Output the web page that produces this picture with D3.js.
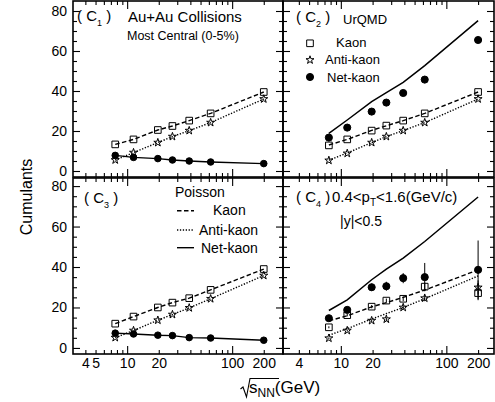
<!DOCTYPE html>
<html><head><meta charset="utf-8">
<script src="https://cdn.jsdelivr.net/npm/d3@7"></script>
<style>
body{margin:0;background:#fff}
svg{display:block}
text{font-family:"Liberation Sans",Arial,Helvetica,sans-serif;fill:#000}
</style>
</head><body>
<svg id="c" width="495" height="402"></svg>
<script>
// ---------- data ----------
const energies = [7.7, 11.5, 19.6, 27, 39, 62.4, 200];

// C1 (mean)
const c1Kaon     = [13.3, 15.8, 20.5, 22.5, 25.2, 28.8, 39.5];
const c1AntiKaon = [5.5, 9.2, 14.2, 17.2, 20.2, 24.2, 36.0];
const c1NetKaon  = [7.8, 6.8, 6.2, 5.5, 5.0, 4.5, 3.7];

// C2 (variance)
const c2Kaon     = [12.8, 15.8, 20.2, 22.7, 25.2, 28.8, 39.5];
const c2AntiKaon = [5.3, 8.8, 14.2, 17.2, 20.2, 24.2, 36.0];
const c2NetKaon  = [16.7, 21.7, 29.7, 34.2, 39.0, 45.7, 65.5];
const c2PoissonKaon = [13.0, 15.8, 20.3, 22.6, 25.2, 28.8, 39.5];
const c2PoissonAnti = [5.4, 9.0, 14.2, 17.2, 20.2, 24.2, 36.0];
const c2PoissonNet  = [18.8, 25.5, 34.7, 39.2, 44.3, 52.7, 75.2];

// C3 (third cumulant)
const c3Kaon     = [12.0, 15.5, 20.0, 22.4, 24.6, 28.7, 39.0];
const c3AntiKaon = [5.1, 8.6, 13.7, 16.5, 19.8, 24.3, 35.8];
const c3NetKaon  = [7.3, 6.9, 6.3, 6.1, 5.1, 4.9, 3.8];

// C4 (fourth cumulant) with statistical errors
const c4Kaon        = [10.2, 16.2, 20.4, 23.4, 24.3, 30.3, 27.1];
const c4KaonErr     = [0.5, 0.6, 0.8, 1.0, 1.2, 2.0, 3.5];
const c4AntiKaon    = [4.8, 8.6, 13.5, 14.2, 20.0, 24.6, 29.9];
const c4AntiKaonErr = [0.4, 0.5, 0.7, 0.9, 1.0, 1.5, 3.5];
const c4NetKaon     = [14.7, 18.8, 30.0, 30.5, 34.5, 35.0, 38.6];
const c4NetKaonErr  = [1.0, 1.3, 1.8, 2.2, 2.5, 7.0, 14.5];
const c4PoissonKaon = [13.4, 15.9, 20.3, 22.4, 25.0, 28.6, 38.6];
const c4PoissonAnti = [6.3, 9.5, 14.3, 17.0, 20.0, 24.3, 35.6];
const c4PoissonNet  = [18.5, 23.8, 33.7, 39.0, 44.4, 52.6, 74.6];

// ticks
const xMajor = [10, 100];
const xMinor = [4, 5, 6, 7, 8, 9, 20, 30, 40, 50, 60, 70, 80, 90, 200, 300];
const xLabelsLeft  = [4, 5, 10, 20, 100, 200];
const xLabelsRight = [4, 10, 20, 100, 200];
const yMajor = [0, 20, 40, 60, 80];
const yMinor = [5, 10, 15, 25, 30, 35, 45, 50, 55, 65, 70, 75];

// ---------- layout ----------
const svg = d3.select('#c');
const cols = [{x0: 73, x1: 283, dom: [3.05, 305]}, {x0: 283, x1: 494, dom: [2.83, 283]}];
const rows = [{y0: 1, y1: 177, dom: [-3, 85]}, {y0: 178, y1: 354, dom: [-3, 84]}];

function mkScales(ci, ri) {
  const c = cols[ci], r = rows[ri];
  return {
    x: d3.scaleLog().domain(c.dom).range([c.x0, c.x1]),
    y: d3.scaleLinear().domain(r.dom).range([r.y1, r.y0]),
    c, r
  };
}

function ticks(g, axis, tr) {
  const a = g.append('g').attr('transform', tr).call(axis);
  a.select('.domain').remove();
  a.selectAll('line').attr('stroke', '#000').attr('stroke-width', 1.1);
  a.selectAll('text').remove();
}

function frame(ci, ri) {
  const s = mkScales(ci, ri);
  const g = svg.append('g');
  const inX = v => v > s.c.dom[0] && v < s.c.dom[1];
  const inY = v => v > s.r.dom[0] && v < s.r.dom[1];
  const xm = xMajor.filter(inX), xn = xMinor.filter(inX);
  const ym = yMajor.filter(inY), yn = yMinor.filter(inY);
  ticks(g, d3.axisBottom(s.x).tickValues(xm).tickSize(-8).tickFormat(''), `translate(0,${s.r.y1})`);
  ticks(g, d3.axisBottom(s.x).tickValues(xn).tickSize(-4).tickFormat(''), `translate(0,${s.r.y1})`);
  ticks(g, d3.axisTop(s.x).tickValues(xm).tickSize(-8).tickFormat(''), `translate(0,${s.r.y0})`);
  ticks(g, d3.axisTop(s.x).tickValues(xn).tickSize(-4).tickFormat(''), `translate(0,${s.r.y0})`);
  ticks(g, d3.axisLeft(s.y).tickValues(ym).tickSize(-7).tickFormat(''), `translate(${s.c.x0},0)`);
  ticks(g, d3.axisLeft(s.y).tickValues(yn).tickSize(-4).tickFormat(''), `translate(${s.c.x0},0)`);
  ticks(g, d3.axisRight(s.y).tickValues(ym).tickSize(-7).tickFormat(''), `translate(${s.c.x1},0)`);
  ticks(g, d3.axisRight(s.y).tickValues(yn).tickSize(-4).tickFormat(''), `translate(${s.c.x1},0)`);
  g.append('rect').attr('x', s.c.x0).attr('y', s.r.y0)
    .attr('width', s.c.x1 - s.c.x0).attr('height', s.r.y1 - s.r.y0)
    .attr('fill', 'none').attr('stroke', '#000').attr('stroke-width', 1.6);
  // labels
  if (ci === 0) {
    const la = g.append('g').attr('transform', `translate(${s.c.x0},0)`)
      .call(d3.axisLeft(s.y).tickValues(yMajor).tickSize(0).tickPadding(6).tickFormat(d3.format('d')));
    la.select('.domain').remove();
    la.selectAll('text').attr('font-size', 14).style('font-family', '"Liberation Sans",Arial,sans-serif');
  }
  if (ri === 1) {
    const lab = ci === 0 ? xLabelsLeft : xLabelsRight;
    const la = g.append('g').attr('transform', `translate(0,${s.r.y1})`)
      .call(d3.axisBottom(s.x).tickValues(lab).tickSize(0).tickPadding(4).tickFormat(d3.format('d')));
    la.select('.domain').remove();
    la.selectAll('text').attr('font-size', 14).style('font-family', '"Liberation Sans",Arial,sans-serif');
  }
  return s;
}

const dashK = '4.5,2.5', dotA = '1.3,1.6';

function line(s, vals, dash, w) {
  const gen = d3.line().x((d, i) => s.x(energies[i])).y(d => s.y(d));
  svg.append('path').attr('d', gen(vals)).attr('fill', 'none')
    .attr('stroke', '#000').attr('stroke-width', w || 1.4)
    .attr('stroke-dasharray', dash || null);
}
const symSq = d3.symbol(d3.symbolSquare, 44)();
const symStar = d3.symbol(d3.symbolStar, 20)();
function markers(s, vals, type, size) {
  let path;
  if (type === 'sq') path = symSq;
  else if (type === 'star') path = symStar;
  else path = d3.symbol(d3.symbolCircle, size || 36)();
  svg.append('g').selectAll('path').data(vals).join('path')
    .attr('d', path)
    .attr('transform', (d, i) => `translate(${s.x(energies[i])},${s.y(d)})`)
    .attr('fill', type === 'circ' ? '#000' : 'none')
    .attr('stroke', '#000').attr('stroke-width', 1);
}
function errs(s, vals, e) {
  svg.append('g').selectAll('line').data(vals).join('line')
    .attr('x1', (d, i) => s.x(energies[i])).attr('x2', (d, i) => s.x(energies[i]))
    .attr('y1', (d, i) => s.y(d - e[i])).attr('y2', (d, i) => s.y(d + e[i]))
    .attr('stroke', '#000').attr('stroke-width', 1);
}

// ---------- panels ----------
const s1 = frame(0, 0);
line(s1, c1Kaon, dashK); line(s1, c1AntiKaon, dotA); line(s1, c1NetKaon, null);
markers(s1, c1Kaon, 'sq'); markers(s1, c1AntiKaon, 'star'); markers(s1, c1NetKaon, 'circ', 34);

const s2 = frame(1, 0);
line(s2, c2PoissonKaon, dashK); line(s2, c2PoissonAnti, dotA); line(s2, c2PoissonNet, null, 1.5);
markers(s2, c2Kaon, 'sq'); markers(s2, c2AntiKaon, 'star'); markers(s2, c2NetKaon, 'circ', 40);

const s3 = frame(0, 1);
line(s3, c3Kaon, dashK); line(s3, c3AntiKaon, dotA); line(s3, c3NetKaon, null);
markers(s3, c3Kaon, 'sq'); markers(s3, c3AntiKaon, 'star'); markers(s3, c3NetKaon, 'circ', 34);

const s4 = frame(1, 1);
line(s4, c4PoissonKaon, dashK); line(s4, c4PoissonAnti, dotA); line(s4, c4PoissonNet, null, 1.5);
errs(s4, c4Kaon, c4KaonErr); errs(s4, c4AntiKaon, c4AntiKaonErr); errs(s4, c4NetKaon, c4NetKaonErr);
markers(s4, c4Kaon, 'sq'); markers(s4, c4AntiKaon, 'star'); markers(s4, c4NetKaon, 'circ', 40);

// ---------- texts ----------
function title(x, y, sub, fs) {
  const t = svg.append('text').attr('x', x).attr('y', y).attr('font-size', fs || 15);
  t.append('tspan').text('( C');
  t.append('tspan').attr('dy', 5).attr('font-size', 9).text(sub);
  t.append('tspan').attr('dy', -5).text(' )');
}
title(77, 21, '1');
svg.append('text').attr('x', 128).attr('y', 22).attr('font-size', 15).text('Au+Au Collisions');
svg.append('text').attr('x', 127).attr('y', 40).attr('font-size', 12.5).text('Most Central (0-5%)');

title(296, 22, '2');
svg.append('text').attr('x', 343).attr('y', 24).attr('font-size', 13).text('UrQMD');
// C2 legend
const legC2 = [{t: 'Kaon', m: 'sq', x: 336, y: 47, my: 43.3}, {t: 'Anti-kaon', m: 'star', x: 325, y: 64, my: 60}, {t: 'Net-kaon', m: 'circ', x: 327, y: 81.5, my: 77}];
legC2.forEach(d => {
  const p = d.m === 'sq' ? symSq : d.m === 'star' ? symStar : d3.symbol(d3.symbolCircle, 40)();
  svg.append('path').attr('d', p).attr('transform', `translate(310,${d.my})`)
    .attr('fill', d.m === 'circ' ? '#000' : 'none').attr('stroke', '#000').attr('stroke-width', 1);
  svg.append('text').attr('x', d.x).attr('y', d.y).attr('font-size', 13).text(d.t);
});

title(84, 203, '3');
svg.append('text').attr('x', 175).attr('y', 197).attr('font-size', 14).text('Poisson');
const legC3 = [{t: 'Kaon', d: dashK, x: 213, y: 215, ly: 210.7}, {t: 'Anti-kaon', d: dotA, x: 199, y: 235, ly: 230}, {t: 'Net-kaon', d: null, x: 201, y: 253, ly: 247.7}];
legC3.forEach(d => {
  svg.append('line').attr('x1', 177).attr('x2', 194).attr('y1', d.ly).attr('y2', d.ly)
    .attr('stroke', '#000').attr('stroke-width', 1.4).attr('stroke-dasharray', d.d);
  svg.append('text').attr('x', d.x).attr('y', d.y).attr('font-size', 14).text(d.t);
});

title(296, 202, '4');
const pt = svg.append('text').attr('x', 332).attr('y', 202).attr('font-size', 15);
pt.append('tspan').text('0.4<p');
pt.append('tspan').attr('dy', 4).attr('font-size', 10).text('T');
pt.append('tspan').attr('dy', -4).text('<1.6(GeV/c)');
svg.append('text').attr('x', 340).attr('y', 226).attr('font-size', 14).text('|y|<0.5');

// axis titles
svg.append('text').attr('transform', 'translate(32,197) rotate(-90)')
  .attr('text-anchor', 'middle').attr('font-size', 16).text('Cumulants');
svg.append('path').attr('d', 'M240.5,389 L243,387 L246.5,397 L250,378.5 L279,378.5')
  .attr('fill', 'none').attr('stroke', '#000').attr('stroke-width', 1.1);
const xt = svg.append('text').attr('x', 249).attr('y', 393).attr('font-size', 17);
xt.append('tspan').text('s');
xt.append('tspan').attr('dy', 4).attr('font-size', 12).text('NN');
xt.append('tspan').attr('dy', -4).text('(GeV)');
</script>
</body></html>
